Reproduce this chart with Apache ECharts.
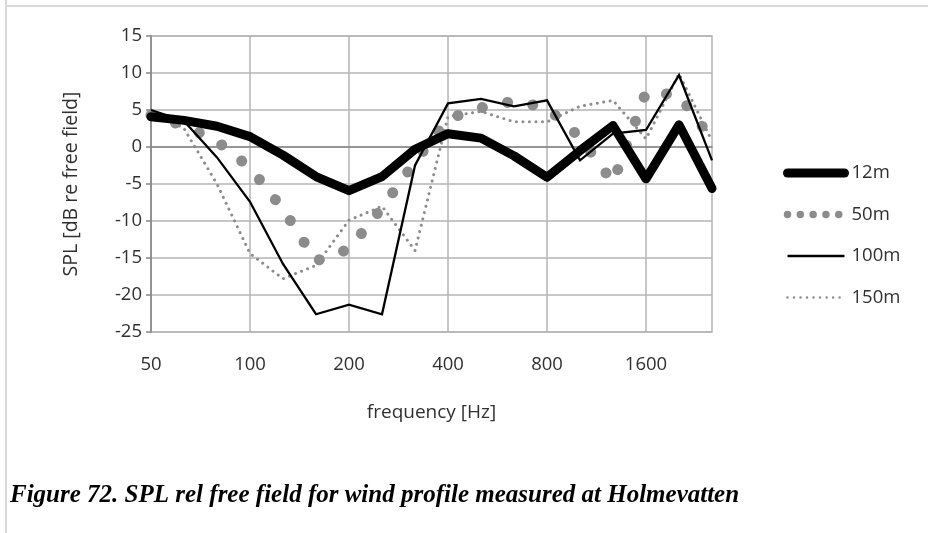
<!DOCTYPE html>
<html>
<head>
<meta charset="utf-8">
<script src="https://cdn.jsdelivr.net/npm/echarts@6/dist/echarts.min.js"></script>
<style>
  html, body { margin: 0; padding: 0; background: #ffffff; }
  #chart { width: 928px; height: 533px; }
</style>
</head>
<body>
<div id="chart"></div>
<script>
// Third-octave band centre frequencies [Hz]
const frequencies = ['50', '63', '80', '100', '125', '160', '200', '250', '315', '400',
                     '500', '630', '800', '1000', '1250', '1600', '2000', '2500'];

// SPL relative to free field [dB], one array per receiver distance
const spl12m  = [4.1, 3.6, 2.8, 1.4, -1.1, -4.0, -5.9, -4.0, -0.3, 1.8, 1.2, -1.2, -4.1, -0.5, 2.9, -4.3, 3.0, -5.6];
const spl50m  = [4.3, 2.9, 0.8, -2.8, -8.4, -15.4, -13.8, -8.2, -2.0, 3.8, 5.3, 6.2, 5.3, 1.3, -4.8, 7.4, 7.0, 1.0];
const spl100m = [5.0, 3.5, -1.4, -7.4, -15.8, -22.6, -21.3, -22.6, -2.5, 5.9, 6.5, 5.5, 6.3, -1.8, 1.8, 2.3, 9.7, -1.8];
const spl150m = [5.0, 2.5, -5.0, -14.4, -17.8, -16.0, -9.9, -8.0, -14.0, 4.1, 4.8, 3.4, 3.4, 5.5, 6.3, 1.1, 9.9, 0.8];

const yTicks = { min: -25, max: 15, step: 5 };

const axisFont = '"Open Sans", "Liberation Sans", sans-serif';
const textColor = '#303030';
const axisColor = '#868686';
const gridColor = '#b4b4b4';
const fontSize = 18.5;

// legend entries draw only their line sample, no marker
const hiddenMarker = { opacity: 0 };

const chart = echarts.init(document.getElementById('chart'), null, { renderer: 'canvas' });

chart.setOption({
  animation: false,
  backgroundColor: '#ffffff',
  grid: {
    left: 151, right: 216, top: 36, bottom: 201,
    show: true, borderColor: gridColor, borderWidth: 1.5, backgroundColor: 'transparent'
  },
  xAxis: {
    type: 'category',
    data: frequencies,
    boundaryGap: false,
    name: 'frequency [Hz]',
    nameLocation: 'middle',
    nameGap: 71,
    nameTextStyle: { fontFamily: axisFont, fontSize: 19, color: textColor },
    axisLine: { lineStyle: { color: axisColor, width: 1.5 } },
    axisTick: { show: false },
    axisLabel: { interval: 2, margin: 23, fontFamily: axisFont, fontSize: fontSize, color: textColor },
    splitLine: { show: true, interval: 2, lineStyle: { color: gridColor, width: 1.5 } }
  },
  yAxis: {
    type: 'value',
    min: yTicks.min, max: yTicks.max, interval: yTicks.step,
    name: 'SPL [dB re free field]',
    nameLocation: 'middle',
    nameRotate: 90,
    nameGap: 70,
    nameTextStyle: { fontFamily: axisFont, fontSize: 19.5, color: textColor },
    axisLine: { show: true, lineStyle: { color: axisColor, width: 1.5 } },
    axisTick: { show: true, length: 5, lineStyle: { color: axisColor, width: 1.5 } },
    axisLabel: { margin: 9, fontFamily: axisFont, fontSize: fontSize, color: textColor },
    splitLine: { show: true, lineStyle: { color: gridColor, width: 1.5 } }
  },
  legend: {
    orient: 'vertical',
    left: 783, top: 163,
    padding: 0,
    itemWidth: 57, itemHeight: 20, itemGap: 21.5,
    textStyle: { fontFamily: axisFont, fontSize: fontSize, color: textColor, lineHeight: 20, padding: [0, 0, 0, 2] },
    data: [
      { name: '12m', itemStyle: hiddenMarker, lineStyle: { width: 9, cap: 'round' } },
      { name: '50m', itemStyle: hiddenMarker, lineStyle: { width: 7.5, type: [0.01, 12.8], cap: 'round' } },
      { name: '100m', itemStyle: hiddenMarker, lineStyle: { width: 2.5 } },
      { name: '150m', itemStyle: hiddenMarker, lineStyle: { width: 2.5, type: [0.01, 6.5], cap: 'round' } }
    ]
  },
  series: [
    {
      name: '12m', type: 'line', data: spl12m, symbol: 'none', z: 4,
      lineStyle: { color: '#000000', width: 9, cap: 'round', join: 'round' },
      itemStyle: { color: '#000000' }
    },
    {
      name: '50m', type: 'line', data: spl50m, symbol: 'none', z: 2,
      lineStyle: { color: '#8c8c8c', width: 11, type: [0.01, 25.7], cap: 'round', join: 'round' },
      itemStyle: { color: '#8c8c8c' }
    },
    {
      name: '100m', type: 'line', data: spl100m, symbol: 'none', z: 5,
      lineStyle: { color: '#000000', width: 2.3, join: 'miter' },
      itemStyle: { color: '#000000' }
    },
    {
      name: '150m', type: 'line', data: spl150m, symbol: 'none', z: 3,
      lineStyle: { color: '#8c8c8c', width: 3, type: [0.01, 6.5], cap: 'round', join: 'round' },
      itemStyle: { color: '#8c8c8c' }
    }
  ],
  graphic: [
    // frame edges around the figure
    { type: 'rect', left: 5, top: 5, shape: { width: 923, height: 2 }, style: { fill: '#d9d9d9' }, silent: true },
    { type: 'rect', left: 5, top: 0, shape: { width: 2, height: 533 }, style: { fill: '#d9d9d9' }, silent: true },
    // figure caption
    {
      type: 'text', left: 10, top: 483,
      style: {
        text: 'Figure 72. SPL rel free field for wind profile measured at Holmevatten',
        font: 'italic bold 25px "Liberation Serif", "DejaVu Serif", serif',
        fill: '#000000'
      }
    }
  ]
});
</script>
</body>
</html>
